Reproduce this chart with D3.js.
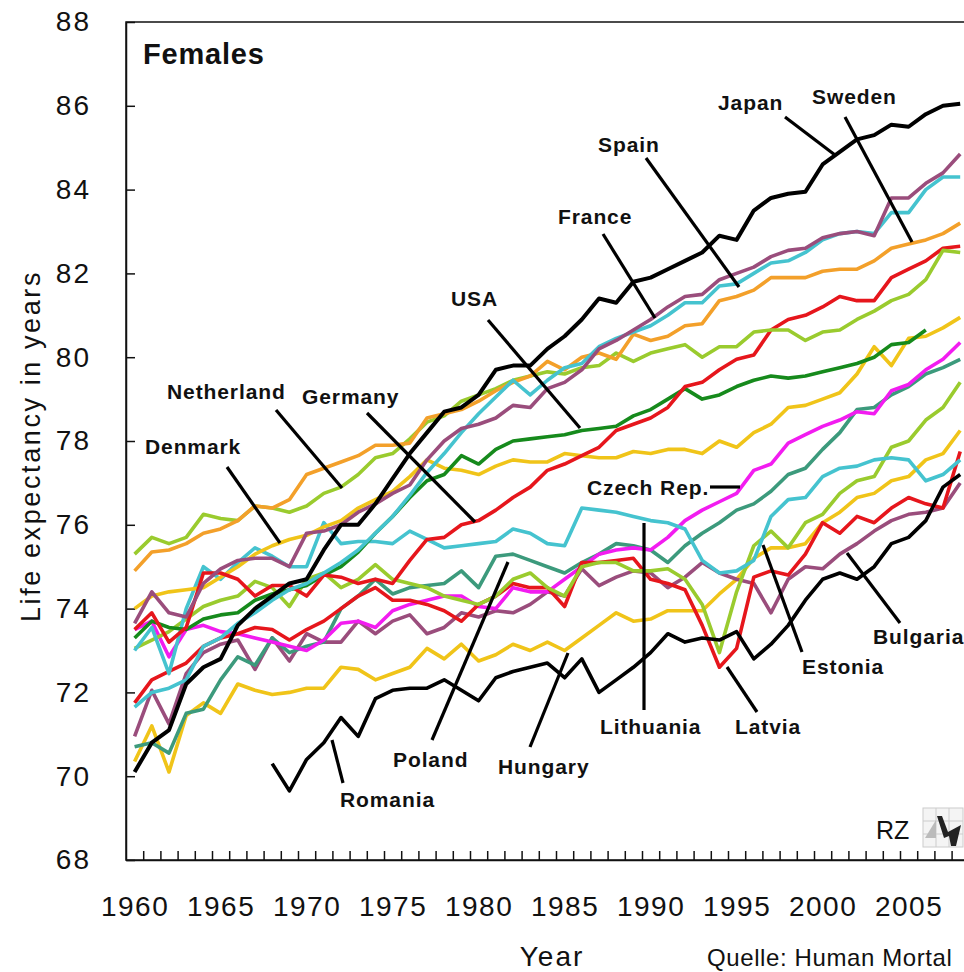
<!DOCTYPE html>
<html>
<head>
<meta charset="utf-8">
<title>Females - life expectancy</title>
<script src="https://cdnjs.cloudflare.com/ajax/libs/d3/7.8.5/d3.min.js"></script>
<style>
body { margin: 0; background: #fff; }
svg { display: block; font-family: "Liberation Sans", Arial, sans-serif; }
.lbl { font-weight: bold; font-size: 21px; letter-spacing: 0.9px; }
</style>
</head>
<body>
<div id="chart"></div>
<script>
// categories
const years = [1960,1961,1962,1963,1964,1965,1966,1967,1968,1969,
  1970,1971,1972,1973,1974,1975,1976,1977,1978,1979,
  1980,1981,1982,1983,1984,1985,1986,1987,1988,1989,
  1990,1991,1992,1993,1994,1995,1996,1997,1998,1999,
  2000,2001,2002,2003,2004,2005,2006,2007,2008];
const yearLabels = [1960,1965,1970,1975,1980,1985,1990,1995,2000,2005];
const yTicks = [68,70,72,74,76,78,80,82,84,86,88];

// female life expectancy
const japan = [70.1,70.8,71.1,72.2,72.6,72.8,73.6,74.0,74.3,74.6,
  74.7,75.4,76.0,76.0,76.5,77.1,77.7,78.2,78.7,78.8,
  79.1,79.7,79.8,79.8,80.2,80.5,80.9,81.4,81.3,81.8,
  81.9,82.1,82.3,82.5,82.9,82.8,83.5,83.8,83.9,83.95,
  84.6,84.9,85.2,85.3,85.55,85.5,85.8,86.0,86.05];
const france = [73.65,74.4,73.9,73.8,74.6,74.95,75.15,75.2,75.2,75.0,
  75.8,75.85,76.0,76.3,76.5,76.75,76.95,77.55,78.0,78.3,
  78.4,78.55,78.85,78.8,79.25,79.4,79.7,80.2,80.4,80.65,
  80.9,81.2,81.45,81.5,81.85,82.0,82.15,82.4,82.55,82.6,
  82.85,82.95,83.0,82.9,83.8,83.8,84.15,84.4,84.85];
const spain = [71.65,72.0,72.1,72.3,73.1,73.3,73.65,73.9,74.2,74.45,
  74.6,74.85,75.1,75.4,75.8,76.2,76.7,77.25,77.7,78.2,
  78.65,79.05,79.45,79.1,79.45,79.75,79.85,80.25,80.45,80.6,
  80.75,81.0,81.3,81.3,81.7,81.75,82.0,82.25,82.3,82.5,
  82.8,82.95,83.0,82.95,83.45,83.45,84.0,84.3,84.3];
const sweden = [74.9,75.35,75.4,75.55,75.8,75.9,76.1,76.45,76.4,76.6,
  77.2,77.35,77.5,77.65,77.9,77.9,77.95,78.55,78.65,78.75,
  78.95,79.2,79.4,79.55,79.9,79.7,80.0,80.1,79.95,80.55,
  80.4,80.5,80.75,80.8,81.35,81.45,81.6,81.9,81.9,81.9,
  82.05,82.1,82.1,82.3,82.6,82.7,82.8,82.95,83.2];
const netherlands = [75.3,75.7,75.55,75.7,76.25,76.15,76.1,76.45,76.4,76.3,
  76.45,76.75,76.9,77.2,77.6,77.7,78.05,78.45,78.6,78.95,
  79.1,79.25,79.45,79.55,79.65,79.6,79.75,79.8,80.1,79.9,
  80.1,80.2,80.3,80.0,80.25,80.25,80.6,80.65,80.65,80.4,
  80.6,80.65,80.9,81.1,81.35,81.5,81.85,82.55,82.5];
const germany = [73.5,73.9,73.2,73.55,74.85,74.85,74.7,74.3,74.55,74.55,
  74.3,74.8,74.75,74.6,74.7,74.6,75.15,75.65,75.7,76.0,
  76.1,76.35,76.65,76.9,77.3,77.45,77.65,77.85,78.25,78.4,
  78.55,78.8,79.3,79.4,79.7,79.95,80.05,80.65,80.9,81.0,
  81.2,81.45,81.35,81.35,81.9,82.1,82.3,82.6,82.65];
const denmark = [74.0,74.3,74.4,74.45,74.5,74.75,75.0,75.3,75.5,75.65,
  75.75,75.95,76.1,76.4,76.6,76.8,77.15,77.55,77.35,77.3,
  77.2,77.4,77.55,77.5,77.5,77.7,77.65,77.6,77.6,77.75,
  77.7,77.8,77.8,77.7,78.0,77.85,78.2,78.4,78.8,78.85,
  79.0,79.15,79.6,80.25,79.8,80.45,80.5,80.7,80.95];
const usa = [73.3,73.7,73.55,73.5,73.75,73.85,73.9,74.2,74.35,74.45,
  74.55,74.8,75.0,75.35,75.8,76.2,76.65,77.05,77.2,77.65,
  77.45,77.8,78.0,78.05,78.1,78.15,78.25,78.3,78.35,78.6,
  78.75,79.0,79.25,79.0,79.1,79.3,79.45,79.55,79.5,79.55,
  79.65,79.75,79.85,80.0,80.3,80.35,80.65,null,null];
const czech = [73.5,73.7,72.85,73.5,73.6,73.45,73.4,73.3,73.2,73.1,
  73.0,73.25,73.65,73.7,73.55,73.95,74.1,74.2,74.3,74.3,
  74.05,74.0,74.5,74.4,74.4,74.7,75.0,75.3,75.4,75.45,
  75.4,75.7,76.1,76.35,76.55,76.75,77.3,77.45,77.95,78.15,
  78.35,78.5,78.7,78.65,79.2,79.35,79.7,79.95,80.35];
const poland = [70.7,70.8,70.55,71.5,71.6,72.3,72.85,72.65,73.3,72.95,
  73.1,73.2,74.0,74.3,74.7,74.35,74.5,74.55,74.6,74.9,
  74.5,75.25,75.3,75.15,75.0,74.85,75.1,75.3,75.55,75.5,
  75.4,75.1,75.5,75.8,76.05,76.35,76.5,76.8,77.2,77.35,
  77.8,78.2,78.75,78.8,79.1,79.3,79.6,79.75,79.95];
const lithuania = [73.0,73.55,72.45,74.0,75.0,74.7,75.1,75.45,75.25,75.0,
  75.0,76.05,75.55,75.6,75.6,75.55,75.85,75.65,75.45,75.5,
  75.55,75.6,75.9,75.8,75.55,75.5,76.4,76.35,76.3,76.2,
  76.1,76.05,75.9,75.15,74.85,74.9,75.15,76.2,76.6,76.65,
  77.15,77.35,77.4,77.55,77.6,77.55,77.05,77.2,77.55];
const estonia = [73.05,73.25,73.45,73.75,74.05,74.2,74.3,74.65,74.5,74.05,
  74.7,74.85,74.5,74.7,75.05,74.7,74.6,74.5,74.3,74.2,
  74.1,74.3,74.7,74.85,74.5,74.3,75.0,75.1,75.1,74.9,
  74.9,74.95,74.7,74.1,72.95,74.4,75.5,75.85,75.45,76.05,
  76.25,76.75,77.05,77.15,77.85,78.0,78.5,78.8,79.4];
const latvia = [71.75,72.3,72.5,72.7,73.1,73.3,73.4,73.55,73.5,73.25,
  73.5,73.7,74.0,74.3,74.5,74.2,74.2,74.1,73.95,73.7,
  74.1,74.3,74.6,74.5,74.5,74.05,75.1,75.1,75.15,75.2,
  74.7,74.6,74.45,73.6,72.6,73.05,74.75,74.9,74.8,75.3,
  76.05,75.8,76.2,76.05,76.4,76.65,76.5,76.4,77.75];
const bulgaria = [70.95,72.05,71.25,72.45,72.95,73.15,73.25,72.55,73.3,72.75,
  73.4,73.2,73.2,73.7,73.4,73.7,73.85,73.4,73.55,73.9,
  73.8,73.95,73.9,74.1,74.4,74.3,74.95,74.55,74.75,74.9,
  74.85,74.5,74.75,75.1,74.85,74.7,74.6,73.9,74.7,75.0,
  74.95,75.3,75.55,75.85,76.1,76.25,76.3,76.4,77.0];
const hungary = [70.35,71.2,70.1,71.45,71.75,71.5,72.2,72.05,71.95,72.0,
  72.1,72.1,72.6,72.55,72.3,72.45,72.6,73.05,72.8,73.15,
  72.75,72.9,73.15,73.0,73.2,73.0,73.3,73.6,73.9,73.7,
  73.75,73.95,73.95,73.95,74.35,74.7,75.2,75.45,75.45,75.55,
  76.05,76.3,76.65,76.75,77.05,77.15,77.55,77.7,78.25];
const romania = [null,null,null,null,null,null,null,null,70.3,69.65,
  70.4,70.8,71.4,70.95,71.85,72.05,72.1,72.1,72.3,72.05,
  71.8,72.35,72.5,72.6,72.7,72.35,72.8,72.0,72.3,72.6,
  72.95,73.4,73.2,73.3,73.25,73.45,72.8,73.15,73.6,74.2,
  74.7,74.85,74.7,75.0,75.55,75.7,76.1,76.9,77.2];

const series = [
  {name: "Hungary", values: hungary, color: "#f0c419"},
  {name: "Bulgaria", values: bulgaria, color: "#9a4d7c"},
  {name: "Poland", values: poland, color: "#3c9a7c"},
  {name: "Czech Rep.", values: czech, color: "#f21cf0"},
  {name: "Latvia", values: latvia, color: "#e6161c"},
  {name: "Estonia", values: estonia, color: "#9acb2e"},
  {name: "Lithuania", values: lithuania, color: "#45c3cf"},
  {name: "Denmark", values: denmark, color: "#f0c419"},
  {name: "USA", values: usa, color: "#168a1c"},
  {name: "Germany", values: germany, color: "#e6161c"},
  {name: "Netherland", values: netherlands, color: "#9acb2e"},
  {name: "Sweden", values: sweden, color: "#f3a02a"},
  {name: "Spain", values: spain, color: "#45c3cf"},
  {name: "France", values: france, color: "#9a4d7c"},
  {name: "Romania", values: romania, color: "#000000"},
  {name: "Japan", values: japan, color: "#000000"}
];

// label text position + leader line [x1,y1,x2,y2]
const labels = [
  {t: "Japan", x: 718, y: 110, l: [785,117,835,155]},
  {t: "Sweden", x: 812, y: 104, l: [845,117,912,242]},
  {t: "Spain", x: 598, y: 152, l: [646,158,739,287]},
  {t: "France", x: 558, y: 224, l: [603,234,655,318]},
  {t: "USA", x: 451, y: 306, l: [488,320,580,428]},
  {t: "Germany", x: 302, y: 404, l: [367,413,475,522]},
  {t: "Netherland", x: 167, y: 399, l: [276,410,342,488]},
  {t: "Denmark", x: 145, y: 454, l: [227,467,280,543]},
  {t: "Czech Rep.", x: 587, y: 495, l: [710,487,740,487]},
  {t: "Lithuania", x: 600, y: 734, l: [644,523,644,710]},
  {t: "Latvia", x: 735, y: 734, l: [727,667,757,712]},
  {t: "Estonia", x: 802, y: 674, l: [763,545,802,652]},
  {t: "Bulgaria", x: 873, y: 644, l: [847,553,900,623]},
  {t: "Hungary", x: 498, y: 774, l: [530,747,568,653]},
  {t: "Poland", x: 393, y: 767, l: [432,740,508,562]},
  {t: "Romania", x: 340, y: 807, l: [332,740,343,783]}
];

const W = 964, H = 972;
const svg = d3.select("#chart").append("svg")
    .attr("width", W).attr("height", H);

const x = d3.scaleLinear().domain([1959.5, 2008.5]).range([126, 126 + 49 * 17.2]);
const y = d3.scaleLinear().domain([68, 88]).range([860, 22]);

// frame
svg.append("rect")
    .attr("x", 126).attr("y", 22)
    .attr("width", 860).attr("height", 838)
    .attr("fill", "none").attr("stroke", "#111").attr("stroke-width", 1.5);

// y axis
const gy = svg.append("g")
    .attr("transform", "translate(126,0)")
    .call(d3.axisLeft(y).tickValues(yTicks).tickSize(-9).tickSizeOuter(0).tickPadding(35));
gy.select(".domain").attr("stroke", "#111").attr("stroke-width", 1.5);
gy.selectAll(".tick line").attr("stroke", "#111").attr("stroke-width", 1.5);
gy.selectAll(".tick text")
    .attr("font-size", 28).attr("font-family", "Liberation Sans, Arial, sans-serif")
    .attr("letter-spacing", 2).attr("fill", "#111");

// x axis: ticks between years
const boundaries = years.slice(0, -1).map(d => d + 0.5);
const gx = svg.append("g")
    .attr("transform", `translate(0,${y(68)})`)
    .call(d3.axisBottom(x).tickValues(boundaries).tickSize(-9).tickSizeOuter(0).tickFormat(""));
gx.select(".domain").attr("stroke", "#111").attr("stroke-width", 1.5);
gx.selectAll(".tick line").attr("stroke", "#111").attr("stroke-width", 1.5);

const gxl = svg.append("g")
    .attr("transform", `translate(0,${y(68)})`)
    .call(d3.axisBottom(x).tickValues(yearLabels).tickSize(0).tickPadding(36).tickFormat(d3.format("d")));
gxl.select(".domain").remove();
gxl.selectAll(".tick text")
    .attr("font-size", 28).attr("font-family", "Liberation Sans, Arial, sans-serif")
    .attr("letter-spacing", 1.5).attr("fill", "#111");

// axis titles
svg.append("text")
    .attr("transform", "translate(40,446) rotate(-90)")
    .attr("text-anchor", "middle")
    .attr("font-size", 27).attr("letter-spacing", 2.6).attr("fill", "#111")
    .text("Life expectancy in years");
svg.append("text")
    .attr("x", 552).attr("y", 966).attr("text-anchor", "middle")
    .attr("font-size", 28).attr("letter-spacing", 2).attr("fill", "#111")
    .text("Year");
svg.append("text")
    .attr("x", 707).attr("y", 966)
    .attr("font-size", 24).attr("letter-spacing", 0.6).attr("fill", "#111")
    .text("Quelle: Human Mortal");

// lines
const line = d3.line()
    .defined(d => d[1] != null)
    .x(d => x(d[0]))
    .y(d => y(d[1]));

svg.append("g").selectAll("path")
  .data(series)
  .join("path")
    .attr("fill", "none")
    .attr("stroke", d => d.color)
    .attr("stroke-width", d => d.name === "Japan" ? 4 : 3.6)
    .attr("stroke-linejoin", "round")
    .attr("d", d => line(years.map((yr, i) => [yr, d.values[i]])));

// title
svg.append("text")
    .attr("x", 143).attr("y", 64)
    .attr("font-size", 29).attr("font-weight", "bold").attr("letter-spacing", 0.8)
    .attr("fill", "#111")
    .text("Females");

// leader lines and country labels
svg.append("g").selectAll("line")
  .data(labels)
  .join("line")
    .attr("x1", d => d.l[0]).attr("y1", d => d.l[1])
    .attr("x2", d => d.l[2]).attr("y2", d => d.l[3])
    .attr("stroke", "#000").attr("stroke-width", 3.2);

svg.append("g").selectAll("text")
  .data(labels)
  .join("text")
    .attr("class", "lbl")
    .attr("x", d => d.x).attr("y", d => d.y)
    .attr("fill", "#111")
    .text(d => d.t);

// RZ mark
svg.append("text")
    .attr("x", 876).attr("y", 839)
    .attr("font-size", 25).attr("fill", "#111")
    .text("RZ");
const logo = svg.append("g").attr("transform", "translate(923,808)");
logo.append("rect").attr("width", 40).attr("height", 39)
    .attr("fill", "#f4f4f4").attr("stroke", "#ccc").attr("stroke-width", 1);
[13, 26].forEach(v => {
  logo.append("line").attr("x1", v).attr("x2", v).attr("y1", 0).attr("y2", 39).attr("stroke", "#ccc");
  logo.append("line").attr("y1", v).attr("y2", v).attr("x1", 0).attr("x2", 40).attr("stroke", "#ccc");
});
logo.append("path").attr("d", "M2,30 L13,12 L13,30 Z").attr("fill", "#bbb");
logo.append("path").attr("d", "M14,8 L19,8 L25,24 L38,17 L33,38 L28,38 L26,28 L21,30 Z").attr("fill", "#222");
</script>
</body>
</html>
